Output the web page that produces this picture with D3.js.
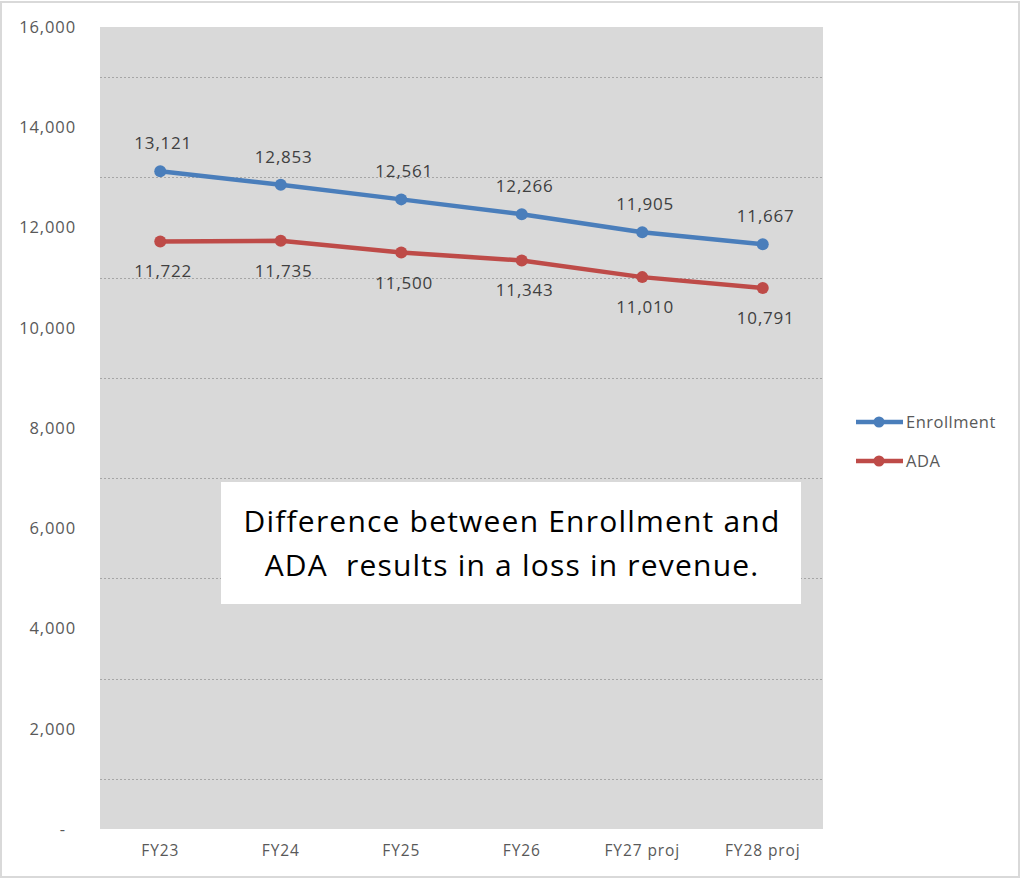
<!DOCTYPE html>
<html>
<head>
<meta charset="utf-8">
<script src="https://cdn.jsdelivr.net/npm/d3@7"></script>
<style>
  html, body { margin: 0; padding: 0; background: #fff; }
  svg { display: block; }
</style>
</head>
<body>
<svg id="chart" width="1021" height="879"></svg>
<script>
// Fiscal years and the two series
const categories = ["FY23", "FY24", "FY25", "FY26", "FY27 proj", "FY28 proj"];
const enrollment = [13121, 12853, 12561, 12266, 11905, 11667];
const ada = [11722, 11735, 11500, 11343, 11010, 10791];
const yTickValues = [0, 2000, 4000, 6000, 8000, 10000, 12000, 14000, 16000];
const yTickLabels = ["-", "2,000", "4,000", "6,000", "8,000", "10,000", "12,000", "14,000", "16,000"];
const gridValues = [1000, 3000, 5000, 7000, 9000, 11000, 13000, 15000];
const seriesNames = ["Enrollment", "ADA"];
const noteLines = ["Difference between Enrollment and", "ADA  results in a loss in revenue."];

const W = 1021, H = 879;
const plot = { left: 100, right: 823, top: 27, bottom: 829 };
const font = "'Open Sans', 'Noto Sans', sans-serif";
const axisColor = "#595959";
const colors = { Enrollment: "#4a7ebb", ADA: "#be4b48" };

const svg = d3.select("#chart");

// outer frame
svg.append("rect")
  .attr("x", 1).attr("y", 2).attr("width", W - 3).attr("height", H - 4)
  .attr("fill", "#fff").attr("stroke", "#d9d9d9").attr("stroke-width", 2);

const x = d3.scaleBand().domain(categories).range([plot.left, plot.right]);
const cx = d => x(d) + x.bandwidth() / 2;
const y = d3.scaleLinear().domain([0, 16000]).range([plot.bottom, plot.top]);

// plot background
svg.append("rect")
  .attr("x", plot.left).attr("y", plot.top)
  .attr("width", plot.right - plot.left).attr("height", plot.bottom - plot.top)
  .attr("fill", "#d9d9d9");

// dotted gridlines
svg.append("g").selectAll("line").data(gridValues).join("line")
  .attr("x1", plot.left).attr("x2", plot.right)
  .attr("y1", d => Math.round(y(d)) + 0.5).attr("y2", d => Math.round(y(d)) + 0.5)
  .attr("stroke", "#a6a6a6").attr("stroke-width", 1).attr("stroke-dasharray", "2,2");

// y axis labels
const yAxis = d3.axisLeft(y).tickValues(yTickValues)
  .tickFormat((d, i) => yTickLabels[i]).tickSize(0).tickPadding(0);
const gy = svg.append("g").attr("transform", `translate(76,0)`).call(yAxis);
gy.select(".domain").remove();
gy.selectAll("text")
  .attr("font-family", font).attr("font-size", 16.5).attr("fill", axisColor)
  .attr("letter-spacing", 0.9)
  .attr("dx", (d) => d === 0 ? -10 : 0);

// x axis labels
const xAxis = d3.axisBottom(x).tickSize(0).tickPadding(0);
const gx = svg.append("g").attr("transform", `translate(0,845)`).call(xAxis);
gx.select(".domain").remove();
gx.selectAll("text")
  .attr("font-family", font).attr("font-size", 15.5).attr("fill", axisColor)
  .attr("letter-spacing", 0.9);

// series lines, markers and value labels
const series = [
  { name: "Enrollment", values: enrollment, labelDy: -22 },
  { name: "ADA", values: ada, labelDy: 36 }
];
const line = d3.line().x((d, i) => cx(categories[i])).y(d => y(d));
const fmt = d3.format(",");

series.forEach(s => {
  const g = svg.append("g");
  g.append("path").datum(s.values)
    .attr("d", line).attr("fill", "none")
    .attr("stroke", colors[s.name]).attr("stroke-width", 4.5)
    .attr("stroke-linejoin", "round").attr("stroke-linecap", "round");
  g.selectAll("circle").data(s.values).join("circle")
    .attr("cx", (d, i) => cx(categories[i])).attr("cy", d => y(d)).attr("r", 6)
    .attr("fill", colors[s.name]);
  g.selectAll("text").data(s.values).join("text")
    .attr("x", (d, i) => cx(categories[i]) + 3).attr("y", d => y(d) + s.labelDy)
    .attr("text-anchor", "middle")
    .attr("font-family", font).attr("font-size", 17).attr("fill", "#404040")
    .attr("letter-spacing", 0.8)
    .text(d => fmt(d));
});

// legend
const legend = svg.append("g");
seriesNames.forEach((name, i) => {
  const ly = 422 + i * 39;
  legend.append("line")
    .attr("x1", 856).attr("x2", 903).attr("y1", ly).attr("y2", ly)
    .attr("stroke", colors[name]).attr("stroke-width", 4.5);
  legend.append("circle").attr("cx", 879).attr("cy", ly).attr("r", 5.5).attr("fill", colors[name]);
  legend.append("text")
    .attr("x", 906).attr("y", ly).attr("dy", "0.35em")
    .attr("font-family", font).attr("font-size", 16.5).attr("fill", axisColor)
    .attr("letter-spacing", 0.5)
    .text(name);
});

// annotation box
const note = svg.append("g");
note.append("rect")
  .attr("x", 221).attr("y", 482).attr("width", 580).attr("height", 122)
  .attr("fill", "#ffffff");
note.selectAll("text").data(noteLines).join("text")
  .attr("x", 512).attr("y", (d, i) => 532 + i * 44)
  .attr("text-anchor", "middle")
  .attr("font-family", "'Open Sans', sans-serif").attr("font-size", 30)
  .attr("letter-spacing", 1.2)
  .attr("fill", "#000")
  .style("white-space", "pre")
  .text(d => d);
</script>
</body>
</html>
